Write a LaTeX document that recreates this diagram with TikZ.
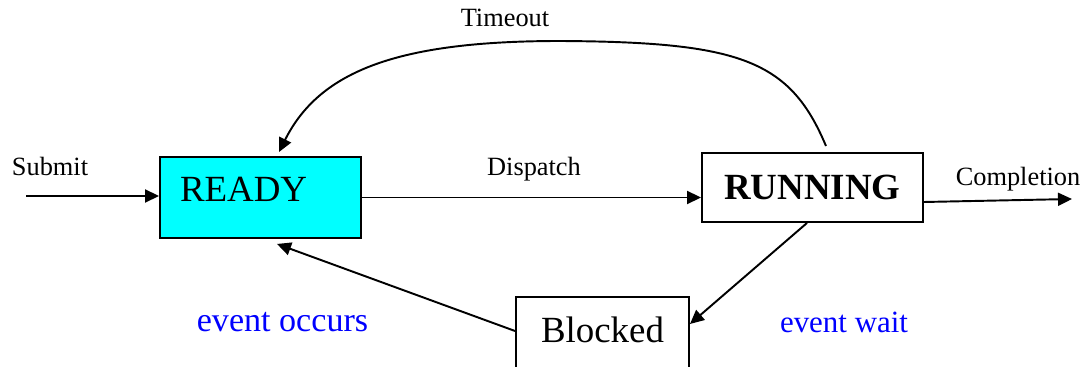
\documentclass[tikz,border=0pt]{standalone}
\usepackage{fontspec}
\setmainfont{Liberation Serif}
\usetikzlibrary{arrows.meta,positioning}
\definecolor{readycyan}{RGB}{0,255,255}

\begin{document}
\begin{tikzpicture}[node distance=11cm, auto, >={Triangle[length=0.28cm,width=0.26cm]},
    every edge/.style={draw, line width=1.1pt},
    stbox/.style={draw, line width=1.1pt, inner sep=0pt},
    lbl/.style={anchor=base, inner sep=0pt, font=\fontsize{15}{18}\selectfont},
    evt/.style={anchor=base, inner sep=0pt, text=blue}]
    \useasboundingbox (0,0) rectangle (21.7,-7.34);
    \clip (0,0) rectangle (21.7,-7.34);

    \node[stbox, fill=readycyan, inner xsep=0.4cm, text width=3.22cm, align=left,
          text height=0.9cm, text depth=0.72cm, font=\fontsize{21}{25}\selectfont]
          (READY) at (5.21,-3.95) {READY};
    \node[stbox, right of=READY, xshift=0.04cm, yshift=0.2cm,
          minimum width=4.42cm, minimum height=1.38cm,
          font=\fontsize{21}{25}\selectfont\bfseries] (RUNNING) {RUNNING};
    \node[stbox, below of=READY, node distance=2.77cm, xshift=6.84cm,
          minimum width=3.46cm, text height=0.92cm, text depth=0.64cm,
          font=\fontsize{21}{25}\selectfont] (Blocked) {Blocked};

    \coordinate (in) at (0.52,-3.92);
    \coordinate (out) at (21.44,-3.98);

    % labels
    \node[lbl] (submit) at (1.0,-3.52) {Submit};
    \node[lbl] (dispatch) at (10.68,-3.52) {Dispatch};
    \node[lbl] (completion) at (20.36,-3.72) {Completion};
    \node[lbl] (timeout) at (10.1,-0.54) {Timeout};
    \node[evt, font=\fontsize{19.4}{23}\selectfont] (occurs) at (5.65,-6.64) {event occurs};
    \node[evt, font=\fontsize{17.6}{21}\selectfont] (wait) at (16.88,-6.66) {event wait};

    \path[->] (in) edge (in -| READY.west);
    \path[->] (READY.east) edge (READY.east -| RUNNING.west);
    \path[->] ([yshift=-0.29cm]RUNNING.east) edge (out);
    \path[->] ([xshift=-0.11cm]RUNNING.south) edge ([yshift=0.24cm]Blocked.east);
    \path[->] ([yshift=0.1cm]Blocked.west) edge ([shift={(0.33,-0.1)}]READY.south);
    \draw[->, line width=1.1pt] ([shift={(0.27,0.12)}]RUNNING.north)
        .. controls (15.8,-1.2) and (14.8,-0.84) .. (11.2,-0.82)
        .. controls (8.0,-0.82) and (6.4,-1.4) .. ([shift={(0.37,0.08)}]READY.north);
\end{tikzpicture}
\end{document}
